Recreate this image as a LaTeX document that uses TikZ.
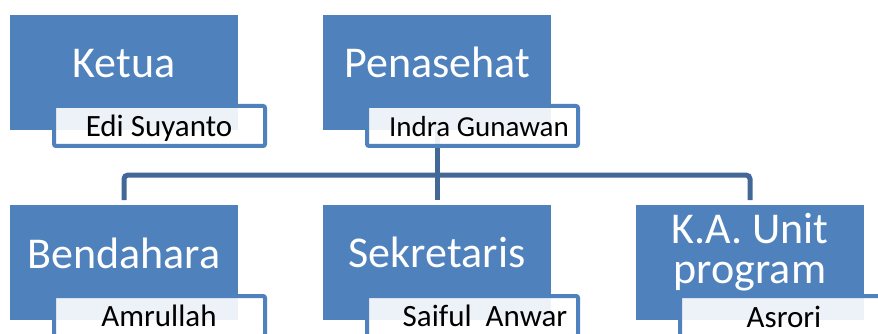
\documentclass[tikz,border=0pt]{standalone}
\usepackage{fontspec}
\setmainfont{Carlito}
\definecolor{boxblue}{RGB}{79,129,189}
\definecolor{lineblue}{RGB}{65,104,150}
\tikzset{
  mainbox/.style={fill=boxblue, minimum width=228pt, minimum height=115pt, anchor=north west, inner sep=0pt, outer sep=0pt},
  maintext/.style={text=white, font=\fontsize{44}{40}\selectfont, anchor=base, inner sep=0pt, align=center},
  namebox/.style={draw=boxblue, line width=4pt, fill=white, fill opacity=0.9, rounded corners=2pt, minimum width=211pt, minimum height=40pt, anchor=north west, inner sep=0pt},
  nametext/.style={font=\fontsize{31}{36}\selectfont, anchor=base, inner sep=0pt},
  orgline/.style={draw=lineblue, line width=5pt, rounded corners=4pt}
}
\begin{document}
\begin{tikzpicture}[x=1pt, y=-1pt]
                    \useasboundingbox (0,0) rectangle (878,334);
                    \clip (0,0) rectangle (878,334);

                    \node[mainbox] (ketua) at (10,15) {};
                    \node[mainbox] (penasehat) at (323,15) {};
                    \node[mainbox] (bendahara) at (10,205) {};
                    \node[mainbox] (sekretaris) at (323,205) {};
                    \node[mainbox] (kaunit) at (636,205) {};

                    \node[maintext] (ketuatext) at (124,78) {Ketua};
                    \node[maintext] (penasehattext) at (437,78) {Penasehat};
                    \node[maintext] (bendaharatext) at (124,268) {Bendahara};
                    \node[maintext] (sekretaristext) at (437,267) {Sekretaris};
                    \node[maintext] (kaunittext) at (750,283) {K.A. Unit\\program};

                    \coordinate (fork) at (437,175);
                    \draw[orgline] (penasehat.south) -- (fork);
                    \draw[orgline] (fork) -| ([yshift=5pt]bendahara.north);
                    \draw[orgline] (fork) -| ([yshift=5pt]kaunit.north);
                    \draw[orgline] (fork) -- ([yshift=5pt]sekretaris.north);

                    \node[namebox] (ketuabox) at (52,104) {};
                    \node[namebox] (penasehatbox) at (365,104) {};
                    \node[namebox] (bendaharabox) at (52,294) {};
                    \node[namebox] (sekretarisbox) at (365,294) {};
                    \node[namebox] (kaunitbox) at (678,294) {};

                    \node[nametext] (ketuaname) at (159,137) {Edi Suyanto};
                    \node[nametext, font=\fontsize{29}{34}\selectfont] (penasehatname) at (479,136) {Indra Gunawan};
                    \node[nametext] (bendaharaname) at (159,326) {Amrullah};
                    \node[nametext] (sekretarisname) at (485,326) {Saiful\ \ Anwar};
                    \node[nametext] (kaunitname) at (784,327) {Asrori};
                \end{tikzpicture}
\end{document}
